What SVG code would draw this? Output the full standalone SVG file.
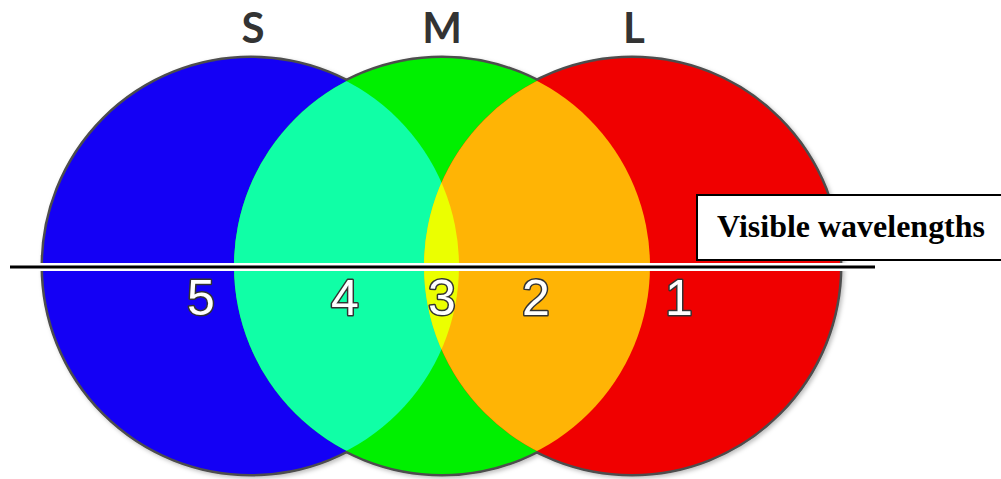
<svg xmlns="http://www.w3.org/2000/svg" width="1001" height="479" viewBox="0 0 1001 479">
  <style>
    .outline { fill: #4d4d4d; stroke: #4d4d4d; stroke-width: 5; }
    .cone { font-family: Lato, "Open Sans", "Liberation Sans", sans-serif; font-weight: bold; font-size: 42px; fill: #333333; text-anchor: middle; }
    .num { font-family: "Liberation Sans", Arial, sans-serif; font-size: 50px; fill: #ffffff; stroke: #333333; stroke-width: 3; stroke-linejoin: round; paint-order: stroke; text-anchor: middle; }
    .box { fill: #ffffff; stroke: #000000; stroke-width: 2; }
    .boxtext { font-family: "Liberation Serif", "Times New Roman", serif; font-weight: bold; font-size: 32px; fill: #000000; }
  </style>
  <defs>
    <clipPath id="clipS"><circle cx="251" cy="266" r="208"/></clipPath>
    <clipPath id="clipL"><circle cx="632" cy="266" r="208"/></clipPath>
    <filter id="shadow" x="-10%" y="-10%" width="120%" height="120%">
      <feDropShadow dx="2" dy="2" stdDeviation="2" flood-color="#000000" flood-opacity="0.25"/>
    </filter>
  </defs>

  <rect width="1001" height="479" fill="#ffffff"/>

  <!-- outer outline -->
  <g id="outline" filter="url(#shadow)">
    <circle class="outline" cx="251" cy="266" r="208"/>
    <circle class="outline" cx="442" cy="266" r="208"/>
    <circle class="outline" cx="632" cy="266" r="208"/>
  </g>

  <g id="node-S">
    <circle cx="251" cy="266" r="208" fill="#1400f5"/>
    <text class="cone" x="253" y="43">S</text>
  </g>
  <g id="node-M">
    <circle cx="442" cy="266" r="208" fill="#00f000"/>
    <text class="cone" x="442" y="43">M</text>
  </g>
  <g id="node-L">
    <circle cx="632" cy="266" r="208" fill="#f00000"/>
    <text class="cone" x="634" y="43">L</text>
  </g>

  <g id="overlaps">
    <circle cx="442" cy="266" r="208" fill="#10ffa6" clip-path="url(#clipS)"/>
    <circle cx="442" cy="266" r="208" fill="#ffb405" clip-path="url(#clipL)"/>
    <g clip-path="url(#clipL)">
      <circle cx="251" cy="266" r="208" fill="#ebff00"/>
    </g>
  </g>

  <g id="label-box">
    <rect class="box" x="697" y="195" width="310" height="65"/>
    <text class="boxtext" x="717" y="237" textLength="268" lengthAdjust="spacingAndGlyphs">Visible wavelengths</text>
  </g>

  <g id="connectors">
    <line x1="10" y1="267" x2="875" y2="267" stroke="#ffffff" stroke-width="8"/>
    <line x1="10" y1="267" x2="875" y2="267" stroke="#000000" stroke-width="3"/>
  </g>

  <g id="numbers">
    <text class="num" x="201" y="315">5</text>
    <text class="num" x="345" y="315">4</text>
    <text class="num" x="442" y="315">3</text>
    <text class="num" x="536" y="315">2</text>
    <text class="num" x="679" y="315">1</text>
  </g>
</svg>
